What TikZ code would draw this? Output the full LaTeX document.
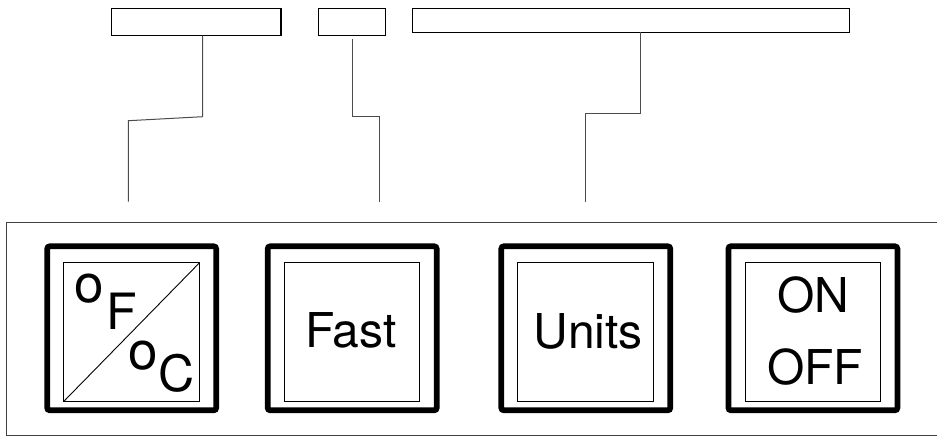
\documentclass[tikz,border=0pt]{standalone}
\usepackage{fontspec}
\setmainfont{TeX Gyre Heros}
\begin{document}
\begin{tikzpicture}[x=1pt,y=-1pt,
  btn/.style={draw,line width=5.7pt,rounded corners=2.5pt,minimum width=169pt,minimum height=164pt,inner sep=0pt,outer sep=0pt},
  face/.style={draw,line width=0.9pt,minimum width=135.7pt,minimum height=138.6pt,inner sep=0pt,outer sep=0pt},
  lbl/.style={inner sep=0pt,outer sep=0pt,font=\fontsize{48}{56}\selectfont},
  big/.style={inner sep=0pt,outer sep=0pt,font=\fontsize{50}{58}\selectfont},
  deg/.style={inner sep=0pt,outer sep=0pt,font=\fontsize{53}{60}\selectfont},
  callout/.style={draw,line width=1.1pt,inner sep=0pt,outer sep=0pt,minimum height=27.4pt},
  leader/.style={draw=black!70,line width=1pt}]
\useasboundingbox (0,0) rectangle (937,437);
% panel
\draw[line width=0.9pt,black!75] (945,222) -- (6,222) -- (6,435) -- (945,435);
% buttons
\node[btn] (b1) at (131.7,328.3) {};
\node[btn] (b2) at (352.2,328.3) {};
\node[btn] (b3) at (585.8,328.3) {};
\node[btn] (b4) at (812.9,328.3) {};
\node[face] (f1) at (131.7,332) {};
\node[face] (f2) at (351.9,332) {};
\node[face] (f3) at (585.7,332) {};
\node[face] (f4) at (812.9,332) {};
\draw[line width=0.9pt] (f1.south west) -- (f1.north east);
% labels
\node[deg,anchor=base west] (o1) at (74.1,302.5) {o};
\node[big,anchor=base west] (tF) at (106.2,329) {F};
\node[deg,anchor=base west] (o2) at (128.1,369.3) {o};
\node[big,anchor=base west] (tC) at (158.5,391) {C};
\node[lbl,anchor=base] (tfast) at (351,347.3) {Fast};
\node[lbl,anchor=base] (tunits) at (588.3,348.3) {Units};
\node[lbl,anchor=base] (ton) at (813,312.3) {ON};
\node[lbl,anchor=base] (toff) at (815,384) {OFF};
% callout boxes
\node[callout,minimum width=169.7pt] (c1) at (196.15,22) {};
\node[callout,minimum width=67.4pt] (c2) at (352,22) {};
\node[callout,minimum width=437pt,minimum height=24pt] (c3) at (631.2,20.3) {};
% leaders
\coordinate (l1a) at (202.7,0);
\coordinate (l1b) at (202.7,116.7);
\coordinate (l1c) at (128.3,120.7);
\coordinate (l1e) at (128.3,201.7);
\draw[leader] (c1.south -| l1a) -- (l1b) -- (l1c) -- (l1e);
\coordinate (l2a) at (352,39);
\coordinate (l2b) at (352,116.7);
\coordinate (l2c) at (379,116.7);
\coordinate (l2e) at (379,201.7);
\draw[leader] (l2a) -- (l2b) -- (l2c) -- (l2e);
\coordinate (l3a) at (640,0);
\coordinate (l3b) at (640,113.7);
\coordinate (l3c) at (585.7,113.7);
\coordinate (l3e) at (585.7,201.7);
\draw[leader] (c3.south -| l3a) -- (l3b) -- (l3c) -- (l3e);
\end{tikzpicture}
\end{document}
